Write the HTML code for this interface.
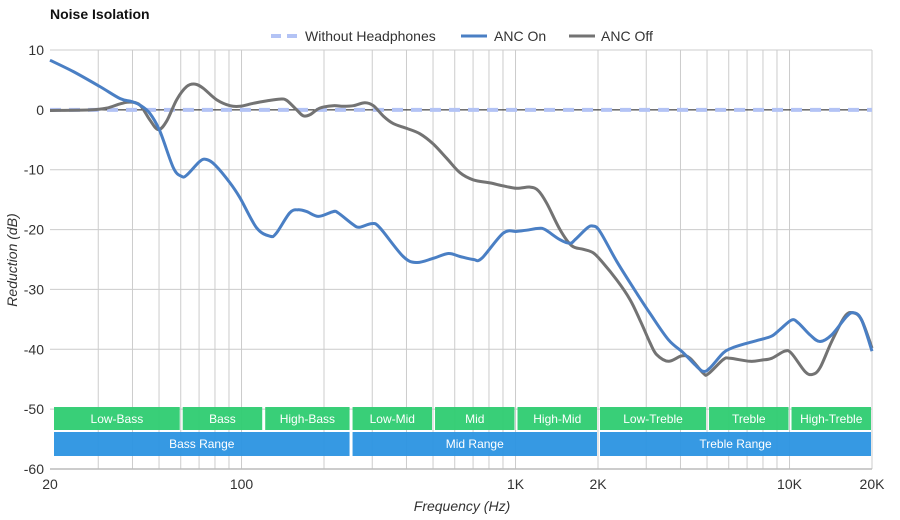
<!DOCTYPE html>
<html><head><meta charset="utf-8"><style>
html,body{margin:0;padding:0;background:#fff;}
svg{display:block;font-family:"Liberation Sans",Arial,sans-serif;}
</style></head><body>
<svg id="chart" width="900" height="520" viewBox="0 0 900 520"></svg>
<script>
const xTicks = [20, 100, 1000, 2000, 10000, 20000];
const xTickLabels = ["20", "100", "1K", "2K", "10K", "20K"];
const xGrid = [30,40,50,60,70,80,90,100,200,300,400,500,600,700,800,900,1000,2000,3000,4000,5000,6000,7000,8000,9000,10000,20000];
const yTicks = [10,0,-10,-20,-30,-40,-50,-60];
const bandNames = ["Low-Bass","Bass","High-Bass","Low-Mid","Mid","High-Mid","Low-Treble","Treble","High-Treble"];
const bandEdges = [20,60,120,250,500,1000,2000,5000,10000,20000];
const rangeNames = ["Bass Range","Mid Range","Treble Range"];
const rangeEdges = [20,250,2000,20000];
const baseFreq = [20, 20000];
const baseVals = [0, 0];
const onFreq = [20,24.3,30.4,36,39.7,42.6,46.3,50.4,56.4,60.4,63.1,70.5,74.6,80,90.8,98.7,113.5,127,134,150,161,173,191,216,225,256,270,299,320,389,436,501,569,627,702,753,902,1010,1099,1211,1282,1453,1581,1649,1819,1913,2033,2340,2767,3097,3614,4100,4519,4846,5130,5731,6150,6980,7810,8610,9230,10180,10770,11880,12920,14250,16170,17200,18330,20000];
const onVals = [8.3,6.4,3.9,1.9,1.4,0.8,-0.6,-3.6,-9.7,-11.1,-10.9,-8.6,-8.3,-9.2,-12.2,-14.7,-19.7,-21.1,-20.6,-17.2,-16.7,-17.0,-17.8,-17.0,-17.2,-19.2,-19.6,-19.0,-19.7,-24.5,-25.5,-24.8,-24.0,-24.5,-25.0,-24.8,-20.6,-20.3,-20.1,-19.8,-20.0,-21.7,-22.3,-21.7,-19.8,-19.4,-20.3,-25.3,-30.6,-34.0,-38.4,-40.6,-42.6,-43.7,-43.1,-40.6,-39.8,-39.0,-38.4,-37.8,-36.7,-35.1,-35.6,-37.6,-38.7,-37.6,-34.5,-33.9,-35.1,-40.3];
const offFreq = [20,28,32.2,36,39.2,42.6,46.3,49.7,53.3,58,63.1,67.7,72.5,81.1,90.8,98.7,110.4,123.6,138,146,159,168,178,193,216,235,256,282,303,330,358,401,448,501,561,627,702,807,902,1010,1130,1211,1300,1453,1603,1767,1923,2090,2340,2618,2845,3097,3276,3614,4040,4337,4846,5055,5731,6070,7180,7910,8610,9620,10180,11380,12120,12920,14250,15920,17100,18330,20000];
const offVals = [-0.1,0,0.3,1.0,1.3,0.8,-1.7,-3.3,-1.9,1.7,3.9,4.3,3.6,1.7,0.7,0.6,1.1,1.5,1.8,1.6,0,-1.0,-0.8,0.3,0.7,0.6,0.7,1.2,0.7,-1.1,-2.3,-3.1,-4.0,-5.7,-8.1,-10.5,-11.7,-12.2,-12.7,-13.1,-12.9,-13.5,-15.6,-20.0,-22.7,-23.3,-23.9,-25.6,-28.4,-31.7,-35.1,-38.9,-40.9,-42.0,-41.1,-41.5,-44.0,-44.1,-41.7,-41.5,-42.0,-41.8,-41.5,-40.3,-40.7,-43.7,-44.2,-43.1,-38.7,-34.5,-33.9,-35.1,-39.8];

const L=50,R=872,T=50,B=469;
const xs=f=>L+(R-L)*Math.log10(f/20)/3;
const ys=v=>T+(B-T)*(10-v)/70;
const svg=document.getElementById('chart');
const NS='http://www.w3.org/2000/svg';
function mk(tag,attrs,parent){const e=document.createElementNS(NS,tag);for(const k in attrs)e.setAttribute(k,attrs[k]);(parent||svg).appendChild(e);return e;}

// title
let t=mk('text',{x:50,y:19,'font-size':14,'font-weight':'bold',fill:'#111'});t.textContent='Noise Isolation';


// grid
const grid=mk('g',{});


yTicks.forEach(v=>{const l=mk('line',{x1:L,x2:R,y1:ys(v),y2:ys(v),stroke:'#cccccc','stroke-width':1},grid);
});
xGrid.forEach(f=>{const l=mk('line',{x1:xs(f),x2:xs(f),y1:T,y2:B,stroke:'#cccccc','stroke-width':1},grid);
});
mk('line',{x1:L,x2:R,y1:B,y2:B,stroke:'#bbb','stroke-width':1.5});
const zl=mk('line',{x1:L,x2:R,y1:ys(0),y2:ys(0),stroke:'#222','stroke-width':1});


// y labels
yTicks.forEach(v=>{const e=mk('text',{x:44,y:ys(v)+5,'text-anchor':'end','font-size':14,fill:'#333'});e.textContent=String(v);
});
xTicks.forEach((f,i)=>{const e=mk('text',{x:xs(f),y:489,'text-anchor':'middle','font-size':14,fill:'#333'});e.textContent=xTickLabels[i];
});
let xt=mk('text',{x:462,y:511,'text-anchor':'middle','font-size':14,'font-style':'italic',fill:'#333'});xt.textContent='Frequency (Hz)';

let yt=mk('text',{x:0,y:0,'text-anchor':'middle','font-size':14,'font-style':'italic',fill:'#333',transform:'translate(17,260) rotate(-90)'});yt.textContent='Reduction (dB)';


// bands
bandNames.forEach((n,i)=>{const x1=xs(bandEdges[i])+(i==0?4:2),x2=xs(bandEdges[i+1])-1;
const r=mk('rect',{x:x1,y:407,width:x2-x1,height:23,fill:'#2ecc71','fill-opacity':0.95});

const e=mk('text',{x:(x1+x2)/2,y:423,'text-anchor':'middle','font-size':12,fill:'#fff'});e.textContent=n;
});
rangeNames.forEach((n,i)=>{const x1=xs(rangeEdges[i])+(i==0?4:2),x2=xs(rangeEdges[i+1])-1;
const r=mk('rect',{x:x1,y:432,width:x2-x1,height:24,fill:'#2b94e1','fill-opacity':0.95});

const e=mk('text',{x:(x1+x2)/2,y:448,'text-anchor':'middle','font-size':12,fill:'#fff'});e.textContent=n;
});

function pathFor(fr,vals){const p=fr.map((f,i)=>[xs(f),ys(vals[i])]);
let d='M'+p[0][0].toFixed(1)+','+p[0][1].toFixed(1);
for(let i=0;i<p.length-1;i++){const p0=p[i-1]||p[i],p1=p[i],p2=p[i+1],p3=p[i+2]||p2;
const c1=[p1[0]+(p2[0]-p0[0])/6,p1[1]+(p2[1]-p0[1])/6],c2=[p2[0]-(p3[0]-p1[0])/6,p2[1]-(p3[1]-p1[1])/6];
d+=' C'+c1[0].toFixed(1)+','+c1[1].toFixed(1)+' '+c2[0].toFixed(1)+','+c2[1].toFixed(1)+' '+p2[0].toFixed(1)+','+p2[1].toFixed(1);}
return d;}
const base=mk('path',{d:pathFor(baseFreq,baseVals),fill:'none',stroke:'#b3c3f5','stroke-width':4,'stroke-dasharray':'11,8'});

const off=mk('path',{d:pathFor(offFreq,offVals),fill:'none',stroke:'#737373','stroke-width':3,'stroke-linejoin':'round'});

const on=mk('path',{d:pathFor(onFreq,onVals),fill:'none',stroke:'#4a7fc4','stroke-width':3,'stroke-linejoin':'round'});


// legend
const lg=mk('g',{});

const items=[['Without Headphones',271,305,'#b3c3f5',true],['ANC On',461,494,'#4a7fc4',false],['ANC Off',569,601,'#737373',false]];
items.forEach(it=>{const g=mk('g',{},lg);

mk('line',{x1:it[1],x2:it[1]+26,y1:36,y2:36,stroke:it[3],'stroke-width':it[4]?4:3,'stroke-dasharray':it[4]?'10,6':'none'},g);
const e=mk('text',{x:it[2],y:41,'font-size':14,fill:'#333'},g);e.textContent=it[0];});
</script>
</body></html>
